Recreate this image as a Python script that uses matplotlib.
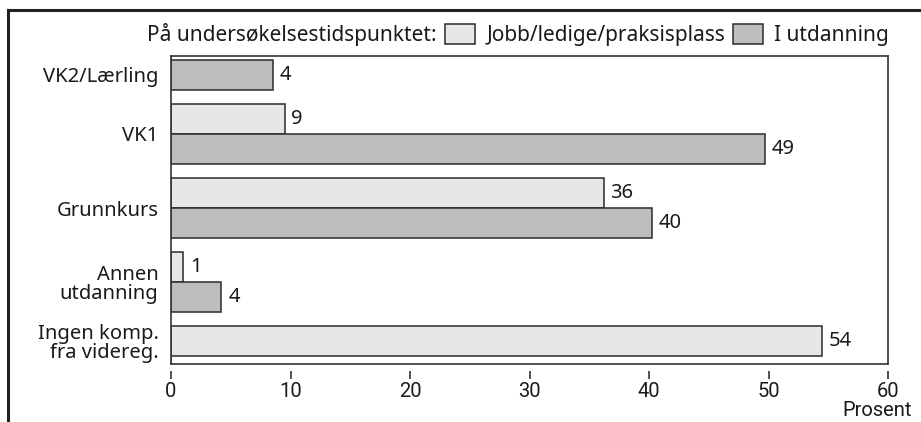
import numpy as np
import matplotlib
matplotlib.use("Agg")
import matplotlib.pyplot as plt
from matplotlib.lines import Line2D
from matplotlib.patches import Patch
from matplotlib.font_manager import FontProperties

plt.rcParams['font.family'] = ['Noto Sans', 'DejaVu Sans']

categories = ["VK2/Lærling", "VK1", "Grunnkurs", "Annen\nutdanning", "Ingen komp.\nfra videreg."]
jobb = [np.nan, 9.5, 36.2, 1.0, 54.45]
utdanning = [8.5, 49.7, 40.25, 4.2, np.nan]
jobb_labels = ["", "9", "36", "1", "54"]
utdanning_labels = ["4", "49", "40", "4", ""]
series_names = ["Jobb/ledige/praksisplass", "I utdanning"]
legend_prefix = "På undersøkelsestidspunktet:"
xticks = [0, 10, 20, 30, 40, 50, 60]
xlabel = "Prosent"

light = "#e6e7e8"
dark = "#bcbec0"
edge = "#2b2b2b"
txt = "#1a1a1a"

fig = plt.figure(figsize=(9.21, 4.22), dpi=100)
ax = fig.add_axes([171/921, 1-364/422, (888-171)/921, (364-56)/422])

h = 0.4
y = np.arange(len(categories))
jobb_a = np.array(jobb, dtype=float)
utd_a = np.array(utdanning, dtype=float)

ax.barh(y - h/2, np.nan_to_num(jobb_a), height=h, color=light, edgecolor=edge, linewidth=1.1,
        label=series_names[0])
ax.barh(y + h/2, np.nan_to_num(utd_a), height=h, color=dark, edgecolor=edge, linewidth=1.1,
        label=series_names[1])

fs = 14.5
for i in range(len(categories)):
    if not np.isnan(jobb_a[i]):
        ax.annotate(jobb_labels[i], (jobb_a[i], y[i] - h/2), xytext=(5, 0), textcoords="offset points",
                    va="center", ha="left", fontsize=fs, color=txt)
    if not np.isnan(utd_a[i]):
        ax.annotate(utdanning_labels[i], (utd_a[i], y[i] + h/2), xytext=(5, 0), textcoords="offset points",
                    va="center", ha="left", fontsize=fs, color=txt)

tickpos = []
for i in range(len(categories)):
    if np.isnan(jobb_a[i]):
        tickpos.append(y[i] + h/2)
    elif np.isnan(utd_a[i]):
        tickpos.append(y[i] - h/2)
    else:
        tickpos.append(y[i])
ax.set_yticks(tickpos)
ax.set_yticklabels(categories, fontsize=fs, color=txt, linespacing=0.95)
ax.tick_params(axis="y", length=0, pad=9)

ax.set_xlim(0, 60)
ax.set_ylim(4.108, -0.054)
ax.set_xticks(xticks)
ax.set_xticklabels([str(t) for t in xticks])
ax.tick_params(axis="x", length=6, width=1.2, color="#333333", pad=2, labelcolor=txt,
               labelsize=14.5, labelfontfamily='Roboto')

for s in ["top", "left", "right"]:
    ax.spines[s].set_linewidth(1.2)
    ax.spines[s].set_color("#333333")
ax.spines["bottom"].set_position(("outward", 5))
ax.spines["bottom"].set_visible(False)
ax.plot([0, 1], [0, 0], transform=ax.transAxes, color="#333333", lw=1.2, clip_on=False)

fig.text(912/921, 1-410/422, xlabel, ha="right", va="center", color=txt,
         fontproperties=FontProperties(family=['Roboto', 'DejaVu Sans'], size=14.5))

handles = [Patch(facecolor=light, edgecolor=edge, linewidth=1.1),
           Patch(facecolor=dark, edgecolor=edge, linewidth=1.1)]
leg = fig.legend(handles, series_names, loc="center right", bbox_to_anchor=(889/921, 1-35/422),
                 ncol=2, frameon=False, fontsize=15, handlelength=1.45, handleheight=1.1,
                 handletextpad=0.55, columnspacing=0.35, borderaxespad=0, borderpad=0)
for t in leg.get_texts():
    t.set_color(txt)
fig.canvas.draw()
bb = leg.get_window_extent()
fig.text((bb.x0 - 8)/921, 1-35/422, legend_prefix, ha="right", va="center", fontsize=15, color=txt)

# outer frame (cropped border)
fig.add_artist(Line2D([8/921, 1], [1-10/422, 1-10/422], transform=fig.transFigure, color="#222222", lw=2.2))
fig.add_artist(Line2D([8/921, 8/921], [0, 1-10/422], transform=fig.transFigure, color="#222222", lw=2.2))

fig.savefig("out.png", dpi=100)
